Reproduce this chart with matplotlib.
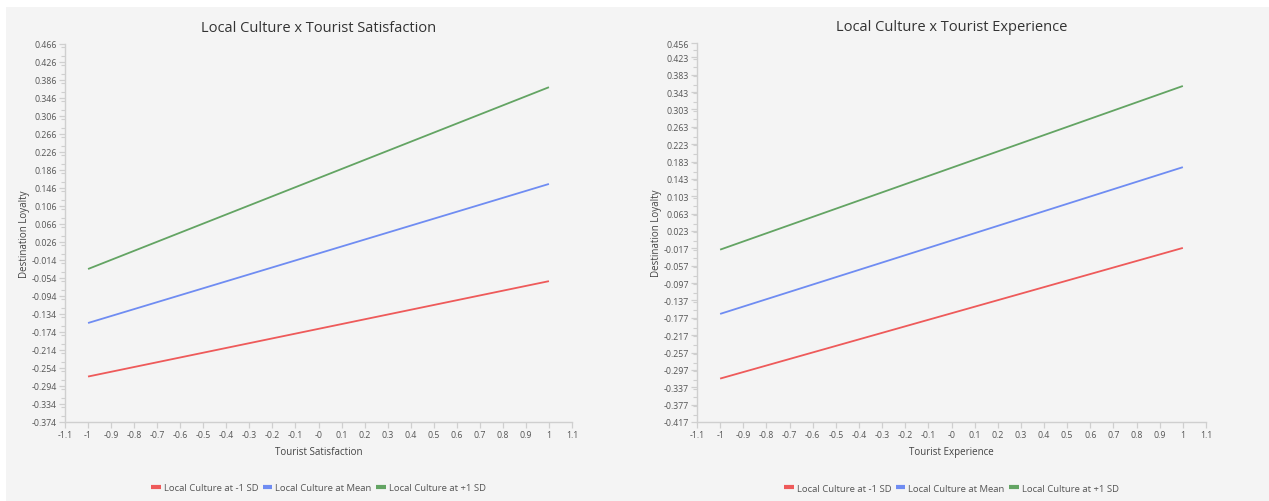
import matplotlib.pyplot as plt
from matplotlib.ticker import MultipleLocator
import numpy as np

plt.rcParams['font.family'] = ['Open Sans', 'DejaVu Sans']

# Simple slopes: moderator level -> (y at x=-1, y at x=+1)
x_ends = [-1, 1]
series_labels = ['Local Culture at -1 SD', 'Local Culture at Mean', 'Local Culture at +1 SD']
series_colors = ['#ee5a5a', '#6f8cf2', '#63a463']

satisfaction_low = [-0.273, -0.061]
satisfaction_mean = [-0.154, 0.155]
satisfaction_high = [-0.034, 0.370]

experience_low = [-0.317, -0.016]
experience_mean = [-0.168, 0.170]
experience_high = [-0.020, 0.357]

x_ticks = [-1.1, -1, -0.9, -0.8, -0.7, -0.6, -0.5, -0.4, -0.3, -0.2, -0.1, 0,
           0.1, 0.2, 0.3, 0.4, 0.5, 0.6, 0.7, 0.8, 0.9, 1, 1.1]
x_tick_labels = ['-1.1', '-1', '-0.9', '-0.8', '-0.7', '-0.6', '-0.5', '-0.4', '-0.3',
                 '-0.2', '-0.1', '-0', '0.1', '0.2', '0.3', '0.4', '0.5', '0.6', '0.7',
                 '0.8', '0.9', '1', '1.1']

sat_y_min, sat_y_max = -0.374, 0.466
exp_y_min, exp_y_max = -0.417, 0.456


def y_ticks_from(y_min, y_max, step=0.04):
    n = int(round((y_max - y_min) / step + 1e-9))
    ticks = [round(y_min + i * step, 3) for i in range(n + 1) if y_min + i * step <= y_max + 1e-9]
    if abs(ticks[-1] - y_max) > 1e-6:
        ticks.append(y_max)
    return ticks


def draw_panel(ax, title, xlabel, lines, y_min, y_max, ylabel_x):
    for vals, color, label in zip(lines, series_colors, series_labels):
        ax.plot(x_ends, vals, color=color, lw=1.3, label=label, solid_capstyle='butt')

    ax.set_xlim(-1.1, 1.1)
    ax.set_ylim(y_min, y_max)
    ax.set_facecolor('#f4f4f4')
    for s in ['top', 'right']:
        ax.spines[s].set_visible(False)
    for s in ['left', 'bottom']:
        ax.spines[s].set_color('#cfcfcf')
        ax.spines[s].set_linewidth(1.0)

    ax.set_xticks(x_ticks)
    ax.set_xticklabels(x_tick_labels)
    yt = y_ticks_from(y_min, y_max)
    ax.set_yticks(yt)
    ax.set_yticklabels(['{:.3f}'.format(v) for v in yt])
    ax.yaxis.set_minor_locator(MultipleLocator(0.02))
    ax.tick_params(axis='both', which='major', length=4, width=0.9, color='#cfcfcf',
                   labelsize=6.3, labelcolor='#555555', pad=2)
    ax.tick_params(axis='y', which='minor', length=3, width=0.8, color='#cfcfcf')

    ax.set_title(title, fontsize=10.5, color='#333333', pad=9)
    ax.set_xlabel(xlabel, fontsize=7, color='#444444', labelpad=5)
    ax.set_ylabel('Destination Loyalty', fontsize=7, color='#444444')
    ax.yaxis.set_label_coords(ylabel_x, 0.5)
    ax.legend(loc='upper center', bbox_to_anchor=(0.5, -0.14), ncol=3, frameon=False,
              fontsize=6.8, labelcolor='#555555', handlelength=1.0, handletextpad=0.3,
              columnspacing=0.5)
    for line in ax.get_legend().get_lines():
        line.set_linewidth(3)


fig = plt.figure(figsize=(12.69, 5.02), dpi=100, facecolor='#f4f4f4')
# white border strips at top and left, as in the screenshot
fig.patches.append(plt.Rectangle((0, 0), 6 / 1269, 1, transform=fig.transFigure,
                                 facecolor='white', edgecolor='none'))
fig.patches.append(plt.Rectangle((0, 1 - 8 / 502), 1, 8 / 502, transform=fig.transFigure,
                                 facecolor='white', edgecolor='none'))

ax1 = fig.add_axes([65 / 1269, 1 - 423 / 502, 507 / 1269, 378 / 502])
ax2 = fig.add_axes([697 / 1269, 1 - 423 / 502, 509 / 1269, 379 / 502])

draw_panel(ax1, 'Local Culture x Tourist Satisfaction', 'Tourist Satisfaction',
           [satisfaction_low, satisfaction_mean, satisfaction_high], sat_y_min, sat_y_max, -0.070)
draw_panel(ax2, 'Local Culture x Tourist Experience', 'Tourist Experience',
           [experience_low, experience_mean, experience_high], exp_y_min, exp_y_max, -0.068)

fig.savefig('out.png', dpi=100, facecolor=fig.get_facecolor())
